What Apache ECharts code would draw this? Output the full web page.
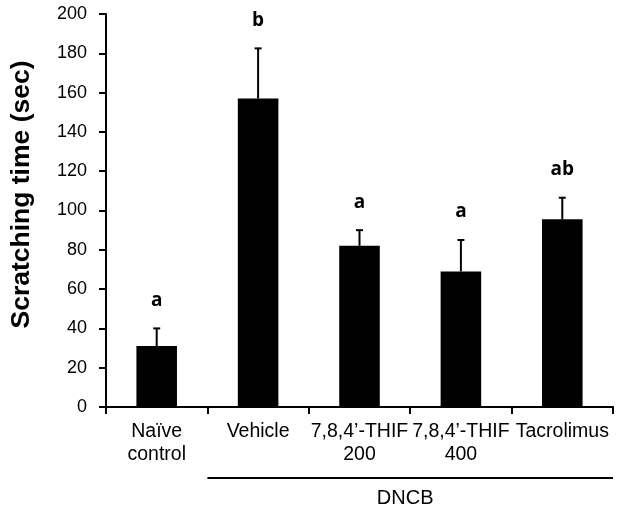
<!DOCTYPE html>
<html><head><meta charset="utf-8">
<script src="https://cdn.jsdelivr.net/npm/echarts@6/dist/echarts.min.js"></script>
<style>html,body{margin:0;padding:0;background:#fff}#c{width:632px;height:512px}</style>
</head><body><div id="c"></div>
<script>
var categories = ['Naïve\ncontrol', 'Vehicle', '7,8,4\u2019-THIF\n200', '7,8,4\u2019-THIF\n400', 'Tacrolimus'];
var means = [31, 157, 82, 69, 95.5];
var errors = [9, 25.5, 8, 16, 11];
var letters = ['a', 'b', 'a', 'a', 'ab'];
var yTicks = [0, 20, 40, 60, 80, 100, 120, 140, 160, 180, 200];
var groupLabel = 'DNCB';
var groupStart = 1;

var chart = echarts.init(document.getElementById('c'), null, {renderer: 'canvas'});
var font = '"Liberation Sans", Arial, sans-serif';
var letterFont = '"Open Sans", "Liberation Sans", sans-serif';
var errData = means.map(function (m, i) { return [i, m, m + errors[i], letters[i]]; });

chart.setOption({
  animation: false,
  backgroundColor: '#fff',
  grid: {left: 105, right: 19, top: 14, bottom: 105, containLabel: false},
  xAxis: {
    type: 'category', data: categories, boundaryGap: true,
    axisLine: {lineStyle: {color: '#000', width: 2}},
    axisTick: {show: true, length: 7, lineStyle: {color: '#000', width: 2}, alignWithLabel: false},
    axisLabel: {color: '#000', fontFamily: font, fontSize: 19.5, lineHeight: 23, margin: 13, interval: 0}
  },
  yAxis: {
    type: 'value', min: yTicks[0], max: yTicks[yTicks.length - 1], interval: 20,
    name: 'Scratching time (sec)', nameLocation: 'middle', nameGap: 71,
    nameTextStyle: {color: '#000', fontFamily: font, fontSize: 26.5, fontWeight: 'bold', padding: [0, 0, 0, 32]},
    axisLine: {show: true, lineStyle: {color: '#000', width: 2}},
    axisTick: {show: true, length: 7, lineStyle: {color: '#000', width: 2}},
    axisLabel: {color: '#000', fontFamily: font, fontSize: 18, margin: 19},
    splitLine: {show: false}
  },
  series: [{
    type: 'bar', data: means, barWidth: '40%',
    itemStyle: {color: '#000'}
  }, {
    type: 'custom', data: errData, z: 3,
    renderItem: function (params, api) {
      var x = api.value(0);
      var base = api.coord([x, api.value(1)]);
      var top = api.coord([x, api.value(2)]);
      var cap = 3.5;
      return {
        type: 'group',
        children: [
          {type: 'line', shape: {x1: base[0], y1: base[1], x2: top[0], y2: top[1]}, style: {stroke: '#000', lineWidth: 2}},
          {type: 'line', shape: {x1: top[0] - cap, y1: top[1], x2: top[0] + cap, y2: top[1]}, style: {stroke: '#000', lineWidth: 2}},
          {type: 'text', x: top[0], y: top[1] - 28, style: {text: api.value(3), fill: '#000', font: 'bold 19px ' + letterFont, align: 'center', verticalAlign: 'middle'}}
        ]
      };
    }
  }]
});

// DNCB group bracket, positioned from the category axis
var half = (chart.convertToPixel({xAxisIndex: 0}, 1) - chart.convertToPixel({xAxisIndex: 0}, 0)) / 2;
var x0 = chart.convertToPixel({xAxisIndex: 0}, groupStart) - half;
var x1 = chart.convertToPixel({xAxisIndex: 0}, categories.length - 1) + half;
var yBase = chart.convertToPixel({yAxisIndex: 0}, 0);
chart.setOption({
  graphic: [
    {type: 'line', shape: {x1: x0, y1: yBase + 71, x2: x1, y2: yBase + 71}, style: {stroke: '#000', lineWidth: 2}},
    {type: 'text', x: (x0 + x1) / 2 - 5, y: yBase + 91, style: {text: groupLabel, fill: '#000', font: '20px ' + font, align: 'center', verticalAlign: 'middle'}}
  ]
});
</script></body></html>
